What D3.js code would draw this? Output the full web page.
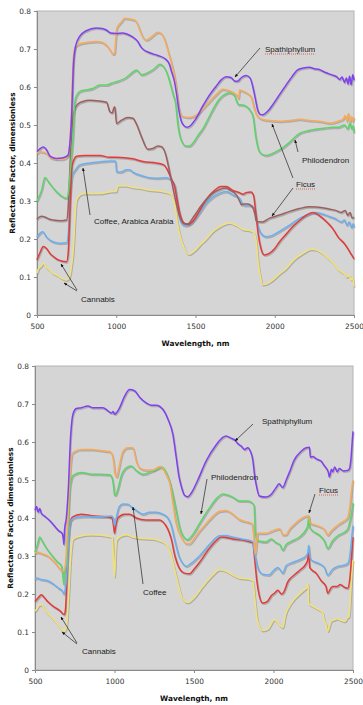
<!DOCTYPE html>
<html>
<head>
<meta charset="utf-8">
<script src="https://cdn.jsdelivr.net/npm/d3@7"></script>
<style>
  body { margin: 0; background: #fff; }
  svg { display: block; }
  .tick text { font-family: "DejaVu Sans", sans-serif; font-size: 7.4px; fill: #333; }
  .axis-title { font-family: "DejaVu Sans", sans-serif; font-size: 7.4px; font-weight: bold; fill: #111; }
  .note { font-family: "Liberation Sans", Arial, sans-serif; font-size: 8px; fill: #222; }
</style>
</head>
<body>
<svg id="chart" width="363" height="705"></svg>
<script>
// tick labels
const xTicks = [500, 1000, 1500, 2000, 2500];
const yTicks = [0, 0.1, 0.2, 0.3, 0.4, 0.5, 0.6, 0.7, 0.8];

// ---- upper chart: [wavelength nm, reflectance] ----
const topSpath = [[500,0.43],[520,0.438],[540,0.442],[560,0.435],[582,0.418],[620,0.412],[666,0.414],[695,0.42],[707,0.45],[718,0.52],[730,0.66],[744,0.708],[769,0.733],[811,0.748],[874,0.755],[910,0.754],[937,0.75],[965,0.742],[1000,0.741],[1042,0.742],[1063,0.74],[1105,0.731],[1135,0.72],[1160,0.703],[1212,0.69],[1262,0.683],[1306,0.675],[1335,0.66],[1349,0.64],[1367,0.615],[1380,0.583],[1395,0.54],[1409,0.512],[1428,0.498],[1447,0.494],[1468,0.498],[1500,0.515],[1546,0.55],[1590,0.58],[1630,0.602],[1665,0.62],[1693,0.627],[1724,0.625],[1750,0.615],[1765,0.615],[1790,0.625],[1819,0.63],[1844,0.624],[1862,0.6],[1878,0.568],[1892,0.54],[1908,0.528],[1924,0.527],[1960,0.538],[1990,0.555],[2030,0.58],[2071,0.605],[2110,0.628],[2144,0.645],[2180,0.65],[2218,0.652],[2250,0.648],[2281,0.646],[2320,0.638],[2360,0.632],[2390,0.627],[2410,0.62],[2425,0.626],[2440,0.612],[2452,0.624],[2462,0.608],[2472,0.628],[2482,0.606],[2492,0.632],[2500,0.618]];
const topOrange = [[500,0.425],[520,0.43],[540,0.428],[560,0.425],[582,0.415],[620,0.41],[666,0.41],[695,0.418],[707,0.45],[718,0.55],[730,0.68],[744,0.708],[790,0.716],[874,0.72],[910,0.718],[947,0.706],[965,0.695],[979,0.686],[990,0.69],[996,0.72],[1004,0.755],[1030,0.77],[1054,0.781],[1090,0.779],[1117,0.776],[1135,0.765],[1149,0.75],[1170,0.73],[1191,0.724],[1231,0.735],[1262,0.744],[1275,0.743],[1306,0.724],[1330,0.69],[1349,0.662],[1367,0.63],[1380,0.595],[1395,0.545],[1420,0.522],[1462,0.52],[1504,0.526],[1567,0.552],[1630,0.58],[1672,0.594],[1714,0.59],[1756,0.58],[1766,0.575],[1772,0.57],[1778,0.592],[1819,0.585],[1850,0.575],[1870,0.545],[1882,0.53],[1905,0.518],[1940,0.513],[2031,0.51],[2100,0.512],[2155,0.515],[2220,0.512],[2281,0.51],[2346,0.505],[2400,0.51],[2430,0.515],[2445,0.525],[2455,0.51],[2465,0.53],[2475,0.508],[2485,0.522],[2492,0.51],[2500,0.52]];
const topPhilo = [[500,0.3],[506,0.305],[530,0.33],[550,0.362],[565,0.355],[582,0.345],[624,0.324],[666,0.31],[687,0.307],[697,0.32],[712,0.39],[729,0.48],[739,0.56],[750,0.578],[780,0.59],[853,0.596],[897,0.605],[937,0.605],[970,0.61],[1010,0.615],[1063,0.625],[1100,0.638],[1128,0.645],[1160,0.632],[1200,0.638],[1240,0.648],[1275,0.66],[1295,0.655],[1317,0.64],[1340,0.61],[1359,0.58],[1375,0.555],[1389,0.5],[1410,0.46],[1440,0.445],[1462,0.445],[1483,0.452],[1520,0.475],[1546,0.49],[1609,0.54],[1650,0.568],[1672,0.577],[1714,0.585],[1745,0.578],[1762,0.56],[1773,0.553],[1787,0.553],[1825,0.548],[1845,0.538],[1863,0.522],[1880,0.47],[1894,0.44],[1913,0.425],[1945,0.42],[2008,0.43],[2050,0.44],[2094,0.455],[2157,0.478],[2210,0.485],[2262,0.489],[2320,0.492],[2365,0.494],[2409,0.495],[2440,0.5],[2460,0.49],[2475,0.505],[2485,0.49],[2495,0.498],[2500,0.48]];
const topFicus = [[500,0.252],[508,0.256],[530,0.26],[550,0.258],[580,0.252],[603,0.25],[650,0.248],[687,0.25],[697,0.285],[707,0.38],[718,0.48],[737,0.54],[760,0.556],[790,0.562],[832,0.565],[895,0.563],[939,0.56],[960,0.535],[975,0.532],[985,0.545],[991,0.548],[1002,0.504],[1031,0.512],[1073,0.52],[1105,0.518],[1130,0.5],[1160,0.468],[1200,0.436],[1230,0.438],[1262,0.445],[1285,0.443],[1310,0.425],[1338,0.374],[1370,0.31],[1401,0.258],[1430,0.24],[1452,0.24],[1490,0.26],[1540,0.29],[1600,0.318],[1651,0.33],[1693,0.334],[1716,0.329],[1760,0.315],[1778,0.3],[1790,0.29],[1800,0.292],[1830,0.292],[1861,0.283],[1875,0.265],[1884,0.246],[1920,0.245],[1968,0.255],[2029,0.263],[2090,0.272],[2155,0.28],[2220,0.285],[2262,0.284],[2330,0.28],[2380,0.276],[2420,0.27],[2445,0.275],[2460,0.262],[2475,0.27],[2488,0.255],[2500,0.258]];
const topCoffee = [[500,0.145],[520,0.165],[540,0.18],[560,0.175],[582,0.162],[610,0.152],[634,0.145],[687,0.14],[697,0.165],[710,0.3],[722,0.395],[750,0.418],[800,0.42],[897,0.42],[958,0.415],[1002,0.415],[1105,0.411],[1168,0.404],[1252,0.4],[1300,0.395],[1325,0.38],[1345,0.36],[1369,0.337],[1385,0.3],[1401,0.268],[1425,0.243],[1452,0.238],[1480,0.245],[1520,0.27],[1570,0.305],[1620,0.328],[1661,0.338],[1693,0.338],[1740,0.327],[1777,0.322],[1800,0.318],[1819,0.322],[1850,0.324],[1866,0.315],[1880,0.27],[1895,0.215],[1913,0.175],[1934,0.158],[1966,0.162],[2000,0.175],[2029,0.192],[2070,0.212],[2113,0.232],[2160,0.25],[2197,0.262],[2239,0.27],[2270,0.265],[2302,0.255],[2335,0.242],[2365,0.228],[2400,0.205],[2439,0.188],[2465,0.172],[2485,0.158],[2500,0.148]];
const topCoffeeB = [[500,0.205],[508,0.21],[536,0.219],[560,0.205],[582,0.197],[620,0.19],[645,0.189],[687,0.19],[697,0.21],[710,0.32],[725,0.37],[740,0.38],[771,0.395],[832,0.4],[897,0.403],[958,0.405],[996,0.405],[1002,0.377],[1031,0.376],[1063,0.382],[1086,0.382],[1105,0.376],[1168,0.366],[1212,0.361],[1252,0.36],[1315,0.361],[1345,0.355],[1369,0.342],[1385,0.3],[1400,0.255],[1420,0.238],[1441,0.235],[1470,0.24],[1520,0.265],[1560,0.29],[1609,0.31],[1650,0.32],[1693,0.325],[1740,0.315],[1777,0.308],[1800,0.29],[1819,0.288],[1850,0.288],[1871,0.28],[1890,0.24],[1913,0.215],[1945,0.206],[1975,0.208],[2008,0.215],[2060,0.228],[2113,0.242],[2160,0.255],[2197,0.262],[2230,0.268],[2260,0.27],[2300,0.266],[2340,0.26],[2380,0.254],[2420,0.245],[2440,0.25],[2455,0.236],[2470,0.245],[2485,0.23],[2495,0.24],[2500,0.232]];
const topCannabis = [[500,0.11],[510,0.122],[525,0.128],[540,0.136],[560,0.125],[580,0.118],[600,0.11],[624,0.105],[660,0.096],[687,0.092],[705,0.1],[718,0.13],[729,0.171],[739,0.25],[748,0.3],[771,0.316],[800,0.32],[895,0.32],[979,0.325],[1000,0.325],[1010,0.34],[1063,0.34],[1100,0.336],[1147,0.334],[1190,0.33],[1273,0.326],[1336,0.32],[1355,0.31],[1370,0.29],[1385,0.245],[1399,0.215],[1430,0.175],[1458,0.16],[1490,0.168],[1530,0.185],[1567,0.2],[1610,0.22],[1651,0.232],[1690,0.24],[1714,0.242],[1760,0.235],[1800,0.225],[1845,0.222],[1865,0.218],[1882,0.198],[1895,0.14],[1910,0.1],[1924,0.08],[1950,0.082],[1980,0.09],[2030,0.108],[2071,0.122],[2120,0.145],[2176,0.162],[2220,0.172],[2239,0.173],[2270,0.17],[2302,0.162],[2340,0.148],[2365,0.138],[2400,0.12],[2439,0.108],[2455,0.1],[2470,0.105],[2482,0.092],[2490,0.098],[2500,0.075]];

// ---- lower chart ----
const botSpath = [[500,0.42],[510,0.43],[520,0.415],[530,0.425],[540,0.412],[560,0.405],[580,0.398],[600,0.39],[620,0.38],[650,0.366],[670,0.36],[678,0.345],[682,0.33],[686,0.37],[697,0.4],[710,0.48],[722,0.6],[740,0.675],[760,0.688],[791,0.69],[833,0.695],[864,0.69],[927,0.69],[959,0.682],[980,0.676],[992,0.68],[1000,0.673],[1010,0.676],[1032,0.69],[1063,0.72],[1095,0.738],[1126,0.735],[1158,0.718],[1199,0.703],[1231,0.697],[1262,0.697],[1304,0.686],[1336,0.66],[1367,0.62],[1388,0.56],[1405,0.51],[1419,0.485],[1440,0.46],[1461,0.456],[1482,0.465],[1524,0.5],[1576,0.55],[1639,0.592],[1681,0.612],[1702,0.616],[1733,0.61],[1760,0.604],[1775,0.596],[1800,0.588],[1817,0.58],[1838,0.585],[1855,0.575],[1869,0.555],[1882,0.51],[1890,0.49],[1911,0.458],[1953,0.455],[1985,0.462],[2016,0.48],[2035,0.49],[2058,0.48],[2080,0.5],[2100,0.52],[2131,0.553],[2173,0.575],[2205,0.585],[2226,0.586],[2232,0.56],[2250,0.562],[2267,0.556],[2299,0.55],[2315,0.54],[2330,0.532],[2345,0.52],[2351,0.508],[2365,0.528],[2372,0.522],[2385,0.534],[2400,0.522],[2414,0.53],[2440,0.524],[2466,0.525],[2478,0.53],[2487,0.555],[2495,0.6],[2500,0.628]];
const botOrange = [[500,0.308],[520,0.31],[540,0.307],[580,0.3],[620,0.285],[660,0.265],[680,0.26],[692,0.28],[705,0.38],[718,0.5],[735,0.57],[755,0.576],[791,0.58],[860,0.58],[906,0.578],[969,0.575],[985,0.568],[995,0.545],[1004,0.515],[1015,0.508],[1022,0.52],[1053,0.575],[1084,0.585],[1116,0.585],[1137,0.55],[1158,0.532],[1199,0.526],[1241,0.526],[1283,0.535],[1304,0.53],[1330,0.51],[1346,0.495],[1367,0.44],[1388,0.385],[1420,0.35],[1450,0.333],[1472,0.332],[1500,0.345],[1534,0.365],[1576,0.385],[1620,0.405],[1660,0.418],[1702,0.42],[1744,0.41],[1786,0.396],[1828,0.39],[1865,0.385],[1874,0.36],[1886,0.305],[1893,0.33],[1901,0.36],[1953,0.36],[2016,0.37],[2040,0.372],[2058,0.356],[2079,0.356],[2100,0.37],[2130,0.383],[2163,0.395],[2205,0.405],[2220,0.406],[2226,0.395],[2236,0.385],[2260,0.382],[2288,0.378],[2320,0.37],[2341,0.355],[2355,0.362],[2372,0.37],[2400,0.38],[2435,0.39],[2466,0.4],[2480,0.43],[2490,0.47],[2500,0.5]];
const botPhilo = [[500,0.31],[515,0.33],[530,0.35],[545,0.34],[570,0.322],[600,0.305],[640,0.285],[665,0.275],[676,0.245],[681,0.225],[688,0.26],[697,0.28],[708,0.38],[720,0.48],[740,0.512],[791,0.52],[860,0.515],[906,0.515],[969,0.514],[985,0.505],[995,0.48],[1000,0.46],[1010,0.462],[1021,0.475],[1042,0.51],[1074,0.532],[1105,0.537],[1137,0.525],[1179,0.515],[1220,0.52],[1273,0.53],[1294,0.535],[1325,0.52],[1357,0.48],[1388,0.42],[1410,0.375],[1440,0.348],[1461,0.343],[1490,0.355],[1534,0.385],[1587,0.42],[1650,0.455],[1681,0.463],[1744,0.455],[1786,0.445],[1838,0.445],[1865,0.44],[1878,0.432],[1886,0.36],[1900,0.34],[1953,0.337],[1985,0.345],[2016,0.335],[2040,0.33],[2058,0.315],[2079,0.33],[2110,0.338],[2163,0.35],[2205,0.37],[2215,0.38],[2222,0.405],[2228,0.375],[2250,0.365],[2288,0.355],[2320,0.34],[2341,0.32],[2372,0.34],[2410,0.355],[2435,0.36],[2466,0.37],[2480,0.39],[2490,0.41],[2500,0.44]];
const botCoffeeB = [[500,0.238],[510,0.242],[540,0.238],[580,0.235],[620,0.225],[650,0.215],[672,0.208],[681,0.2],[690,0.212],[700,0.25],[712,0.35],[728,0.395],[760,0.402],[833,0.404],[906,0.403],[980,0.405],[992,0.4],[1000,0.38],[1008,0.395],[1030,0.43],[1053,0.437],[1084,0.436],[1105,0.43],[1137,0.42],[1179,0.41],[1220,0.415],[1262,0.415],[1304,0.41],[1336,0.4],[1357,0.38],[1380,0.34],[1405,0.3],[1430,0.28],[1451,0.273],[1480,0.28],[1534,0.3],[1597,0.33],[1660,0.353],[1702,0.354],[1744,0.35],[1810,0.344],[1869,0.338],[1880,0.31],[1890,0.29],[1901,0.27],[1932,0.252],[1970,0.25],[2006,0.264],[2027,0.27],[2045,0.262],[2058,0.255],[2080,0.275],[2120,0.283],[2163,0.29],[2205,0.3],[2215,0.308],[2222,0.328],[2228,0.3],[2236,0.29],[2288,0.28],[2320,0.27],[2341,0.25],[2372,0.265],[2400,0.272],[2435,0.275],[2466,0.28],[2480,0.3],[2490,0.34],[2500,0.38]];
const botCoffee = [[500,0.18],[520,0.19],[540,0.198],[560,0.19],[580,0.18],[620,0.166],[660,0.155],[675,0.148],[685,0.146],[692,0.16],[705,0.3],[718,0.38],[735,0.402],[791,0.41],[860,0.406],[950,0.403],[985,0.4],[995,0.375],[1000,0.36],[1008,0.38],[1021,0.4],[1063,0.41],[1095,0.41],[1137,0.4],[1199,0.395],[1283,0.395],[1304,0.39],[1336,0.37],[1357,0.345],[1380,0.3],[1405,0.27],[1440,0.255],[1472,0.253],[1500,0.265],[1534,0.283],[1597,0.32],[1640,0.34],[1671,0.35],[1744,0.345],[1828,0.34],[1869,0.335],[1882,0.29],[1895,0.235],[1911,0.195],[1932,0.176],[1960,0.18],[1985,0.195],[2006,0.202],[2027,0.21],[2050,0.2],[2065,0.205],[2090,0.232],[2130,0.25],[2163,0.262],[2205,0.28],[2215,0.29],[2222,0.31],[2228,0.27],[2245,0.262],[2267,0.255],[2300,0.235],[2330,0.22],[2341,0.202],[2360,0.215],[2372,0.22],[2400,0.22],[2420,0.225],[2445,0.218],[2466,0.215],[2480,0.24],[2490,0.29],[2500,0.35]];
const botCannabis = [[500,0.155],[510,0.16],[525,0.17],[540,0.172],[560,0.16],[580,0.15],[620,0.132],[650,0.117],[670,0.106],[685,0.102],[698,0.115],[712,0.2],[725,0.3],[740,0.345],[781,0.352],[850,0.356],[906,0.355],[960,0.352],[985,0.35],[993,0.3],[1000,0.245],[1006,0.3],[1012,0.34],[1030,0.35],[1074,0.356],[1116,0.35],[1179,0.346],[1241,0.345],[1283,0.34],[1325,0.33],[1350,0.31],[1375,0.27],[1398,0.23],[1425,0.19],[1461,0.178],[1500,0.19],[1555,0.22],[1618,0.25],[1660,0.264],[1702,0.26],[1744,0.25],[1786,0.242],[1838,0.24],[1869,0.235],[1882,0.19],[1895,0.14],[1911,0.115],[1932,0.104],[1965,0.108],[2006,0.132],[2020,0.128],[2040,0.118],[2058,0.112],[2075,0.145],[2110,0.175],[2150,0.195],[2190,0.21],[2210,0.218],[2217,0.228],[2222,0.175],[2245,0.168],[2270,0.162],[2290,0.158],[2310,0.15],[2320,0.13],[2330,0.12],[2341,0.102],[2352,0.115],[2362,0.128],[2380,0.132],[2400,0.135],[2430,0.13],[2450,0.128],[2465,0.138],[2475,0.14],[2485,0.2],[2492,0.25],[2500,0.29]];

const colors = {
  purple: "#8140ee", orange: "#f5aa5c", green: "#5dd46a", brown: "#9c5f5f",
  red: "#e23b3b", blue: "#6caeee", yellow: "#f2e276"
};

const panels = [
  {
    left: 37, right: 354, top: 11, bottom: 315,
    series: [
      [topCannabis, colors.yellow], [topCoffeeB, colors.blue], [topCoffee, colors.red],
      [topFicus, colors.brown], [topPhilo, colors.green], [topOrange, colors.orange], [topSpath, colors.purple]
    ],
    notes: [
      { text: "Spathiphyllum", x: 265, y: 52, squiggle: true, arrows: [[260, 48, 235, 77]] },
      { text: "Philodendron", x: 302, y: 163, arrows: [[298, 152, 295, 140]] },
      { text: "Ficus", x: 296, y: 187, squiggle: true, arrows: [[293, 178, 272, 124], [293, 188, 272, 216]] },
      { text: "Coffee, Arabica Arabia", x: 94, y: 224, arrows: [[90, 215, 83, 168]] },
      { text: "Cannabis", x: 81, y: 302, arrows: [[77, 290, 61, 264], [77, 291, 64, 283]] }
    ]
  },
  {
    left: 35, right: 353, top: 366, bottom: 670,
    series: [
      [botCannabis, colors.yellow], [botCoffee, colors.red], [botCoffeeB, colors.blue],
      [botPhilo, colors.green], [botOrange, colors.orange], [botSpath, colors.purple]
    ],
    notes: [
      { text: "Spathiphyllum", x: 262, y: 424, arrows: [[253, 424, 235, 441]] },
      { text: "Philodendron", x: 211, y: 480, arrows: [[207, 479, 201, 514]] },
      { text: "Ficus", x: 319, y: 493, squiggle: true, arrows: [[315, 494, 309, 513]] },
      { text: "Coffee", x: 143, y: 595, arrows: [[143, 584, 133, 507]] },
      { text: "Cannabis", x: 82, y: 654, arrows: [[77, 643, 61, 617], [77, 644, 62, 632]] }
    ]
  }
];

const svg = d3.select("#chart");

svg.append("defs").append("marker")
  .attr("id", "head")
  .attr("viewBox", "0 0 10 10")
  .attr("refX", 9).attr("refY", 5)
  .attr("markerWidth", 5).attr("markerHeight", 5)
  .attr("orient", "auto")
  .append("path")
  .attr("d", "M0,1 L10,5 L0,9 Z")
  .attr("fill", "#111");

panels.forEach(p => {
  const x = d3.scaleLinear().domain([500, 2500]).range([p.left, p.right]);
  const y = d3.scaleLinear().domain([0, 0.8]).range([p.bottom, p.top]);
  const g = svg.append("g");

  g.append("rect") // plot area
    .attr("x", p.left).attr("y", p.top)
    .attr("width", p.right - p.left).attr("height", p.bottom - p.top)
    .attr("fill", "#d5d5d5")
    .attr("stroke", "#b4b4b4")
    .attr("stroke-width", 1);

  const xAxis = d3.axisBottom(x).tickValues(xTicks).tickSize(3).tickPadding(6)
    .tickFormat(d3.format("d"));
  const yAxis = d3.axisLeft(y).tickValues(yTicks).tickSize(3).tickPadding(3)
    .tickFormat(d => d === 0 ? "0" : d3.format(".1f")(d));

  g.append("g")
    .attr("transform", `translate(0,${p.bottom})`)
    .call(xAxis)
    .call(a => a.select(".domain").attr("stroke", "#8a8a8a"))
    .call(a => a.selectAll(".tick line").attr("stroke", "#8a8a8a"));
  g.append("g")
    .attr("transform", `translate(${p.left},0)`)
    .call(yAxis)
    .call(a => a.select(".domain").attr("stroke", "#8a8a8a"))
    .call(a => a.selectAll(".tick line").attr("stroke", "#8a8a8a"));

  g.append("text")
    .attr("class", "axis-title")
    .attr("x", (p.left + p.right) / 2)
    .attr("y", p.bottom + 31)
    .attr("text-anchor", "middle")
    .text("Wavelength, nm");
  g.append("text")
    .attr("class", "axis-title")
    .attr("transform", `translate(${p.left - 22},${(p.top + p.bottom) / 2}) rotate(-90)`)
    .attr("text-anchor", "middle")
    .text("Reflectance Factor, dimensionless");

  const line = d3.line()
    .x(d => x(d[0]))
    .y(d => y(d[1]))
    .curve(d3.curveMonotoneX);

  // drop shadow first, then the coloured line
  p.series.forEach(([data, col]) => {
    g.append("path")
      .attr("d", line(data))
      .attr("fill", "none")
      .attr("stroke", "#7a7a7a")
      .attr("stroke-opacity", 0.45)
      .attr("stroke-width", 1.6)
      .attr("transform", "translate(0.8,1.2)");
  });
  p.series.forEach(([data, col]) => {
    g.append("path")
      .attr("d", line(data))
      .attr("fill", "none")
      .attr("stroke", col)
      .attr("stroke-width", 1.5)
      .attr("stroke-linejoin", "round");
  });

  p.notes.forEach(n => {
    const t = g.append("text")
      .attr("class", "note")
      .attr("x", n.x).attr("y", n.y)
      .text(n.text);
    if (n.squiggle) {
      const w = t.node().getComputedTextLength();
      g.append("line")
        .attr("x1", n.x).attr("x2", n.x + w)
        .attr("y1", n.y + 2).attr("y2", n.y + 2)
        .attr("stroke", "#e04040")
        .attr("stroke-width", 0.8)
        .attr("stroke-dasharray", "1,1");
    }
    n.arrows.forEach(a => {
      g.append("line")
        .attr("x1", a[0]).attr("y1", a[1])
        .attr("x2", a[2]).attr("y2", a[3])
        .attr("stroke", "#222")
        .attr("stroke-width", 0.7)
        .attr("marker-end", "url(#head)");
    });
  });
});
</script>
</body>
</html>
